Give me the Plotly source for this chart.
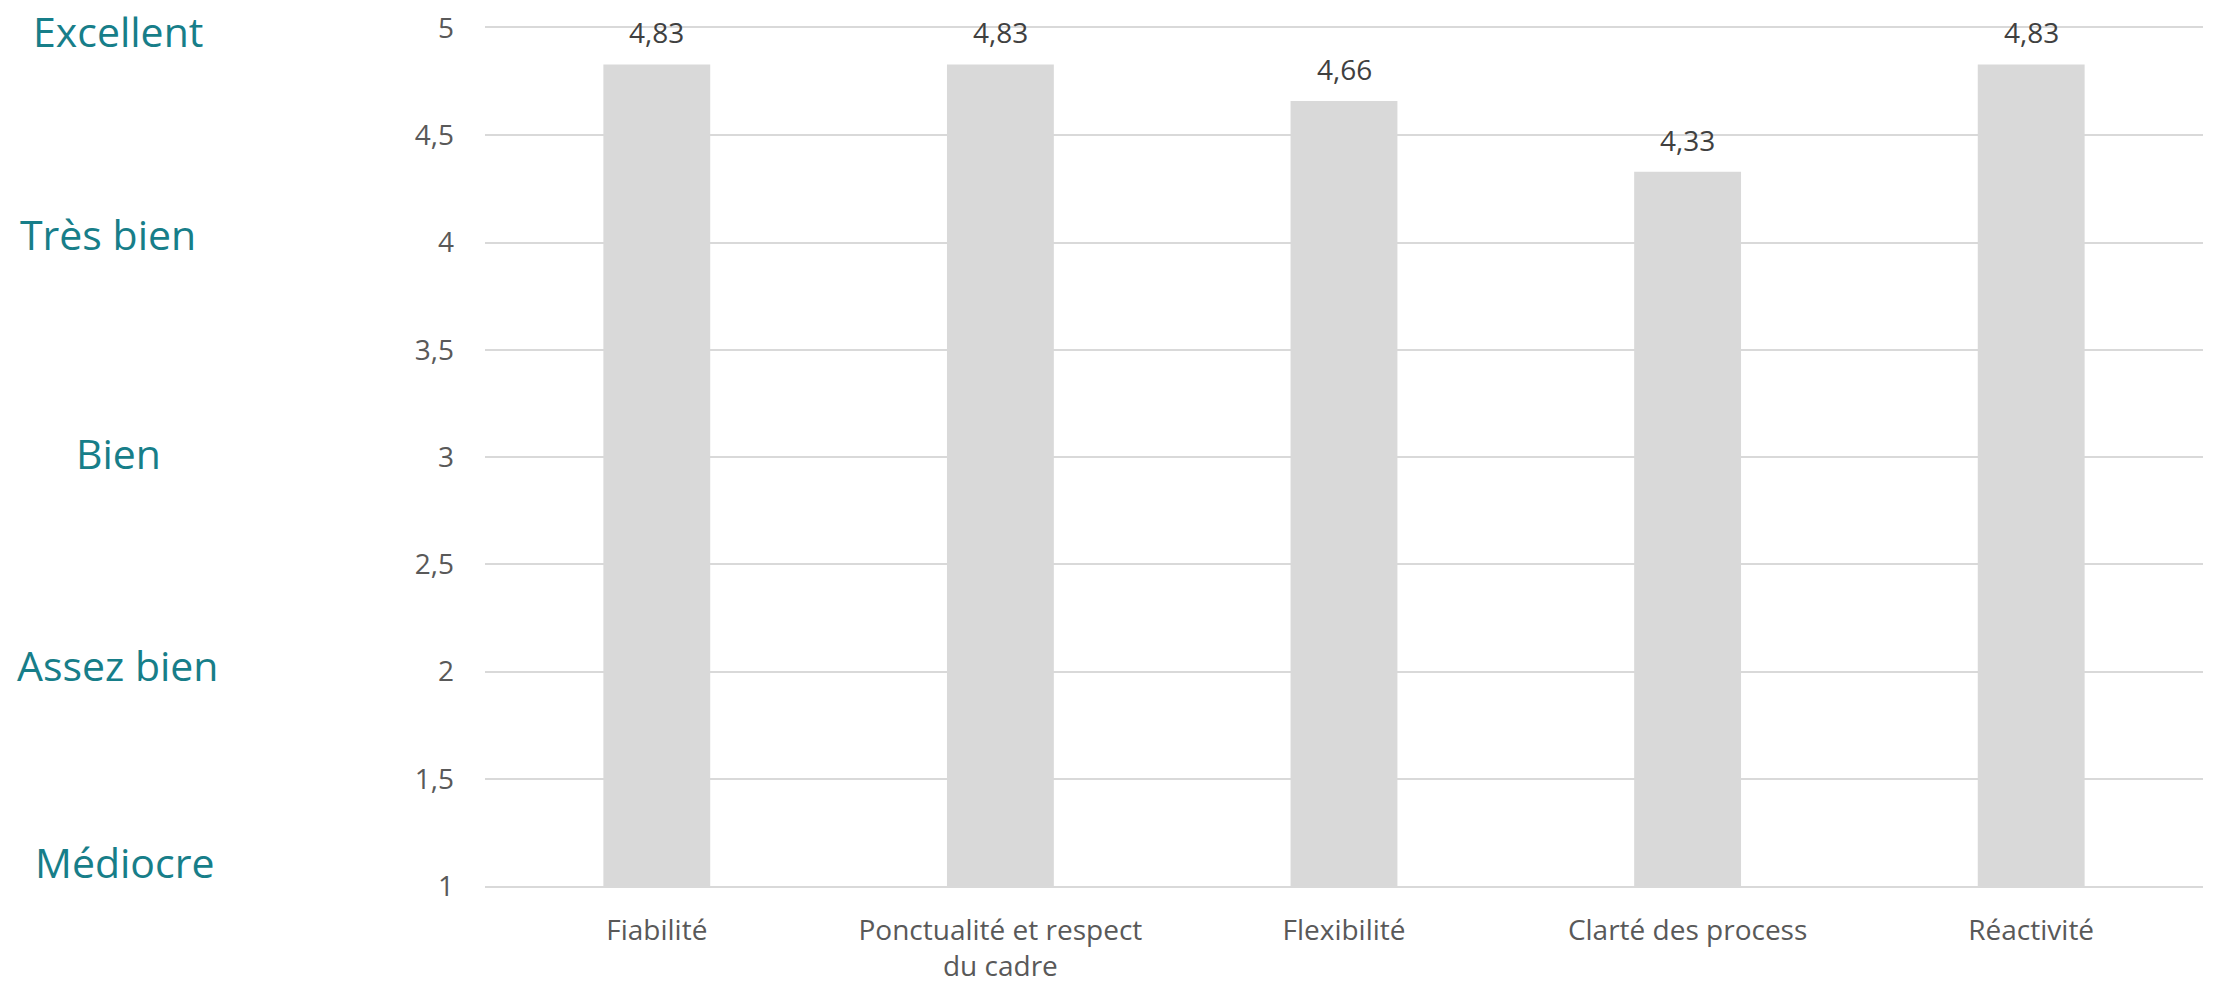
import plotly.graph_objects as go

categories = ["Fiabilité", "Ponctualité et respect<br>du cadre", "Flexibilité", "Clarté des process", "Réactivité"]
scores = [4.83, 4.83, 4.66, 4.33, 4.83]
tick_values = [1, 1.5, 2, 2.5, 3, 3.5, 4, 4.5, 5]
rating_labels = ["Excellent", "Très bien", "Bien", "Assez bien", "Médiocre"]
rating_levels = [4.985, 4.04, 3.02, 2.03, 1.11]
rating_xpos = [110, 100, 110, 110, 116]  # pixel centers of the left labels

FONT = "Open Sans"
W, H = 2213, 988
ML, MR, MT, MB = 477, 18, 20, 110
plot_w = W - ML - MR
Y0, Y1 = 1, 5

fig = go.Figure()
fig.add_trace(go.Bar(
    x=categories, y=scores,
    marker=dict(color="#D9D9D9", line=dict(width=0)),
    hoverinfo="skip",
))

annotations = []
for c, v in zip(categories, scores):
    annotations.append(dict(
        x=c, y=v, xref="x", yref="y",
        text=f"{v:.2f}".replace(".", ","),
        showarrow=False, yanchor="bottom", yshift=11,
        font=dict(family=FONT, size=28, color="#404040"),
    ))
for lab, lv, px in zip(rating_labels, rating_levels, rating_xpos):
    annotations.append(dict(
        x=(px - ML) / plot_w, y=(lv - Y0) / (Y1 - Y0),
        xref="paper", yref="y domain",
        text=lab, showarrow=False, xanchor="center", yanchor="middle",
        font=dict(family=FONT, size=41, color="#177E89"),
    ))

fig.update_layout(
    width=W, height=H,
    margin=dict(l=ML, r=MR, t=MT, b=MB, pad=0, autoexpand=False),
    paper_bgcolor="white", plot_bgcolor="white",
    separators=", ",
    bargap=0.689,
    showlegend=False,
    annotations=annotations,
    font=dict(family=FONT, size=28, color="#595959"),
)
fig.update_yaxes(
    range=[Y0, Y1], tickvals=tick_values,
    showgrid=True, gridcolor="#D9D9D9", gridwidth=2,
    zeroline=False, showline=False, automargin=False,
    ticklabelstandoff=30, ticklabeloverflow="allow",
    tickfont=dict(family=FONT, size=28, color="#595959"),
)
fig.update_xaxes(
    showline=True, mirror=True, linecolor="#D9D9D9", linewidth=2,
    showgrid=False, ticks="", automargin=False,
    ticklabelstandoff=18,
    tickfont=dict(family=FONT, size=28, color="#595959"),
)

fig.write_html("out.html")
